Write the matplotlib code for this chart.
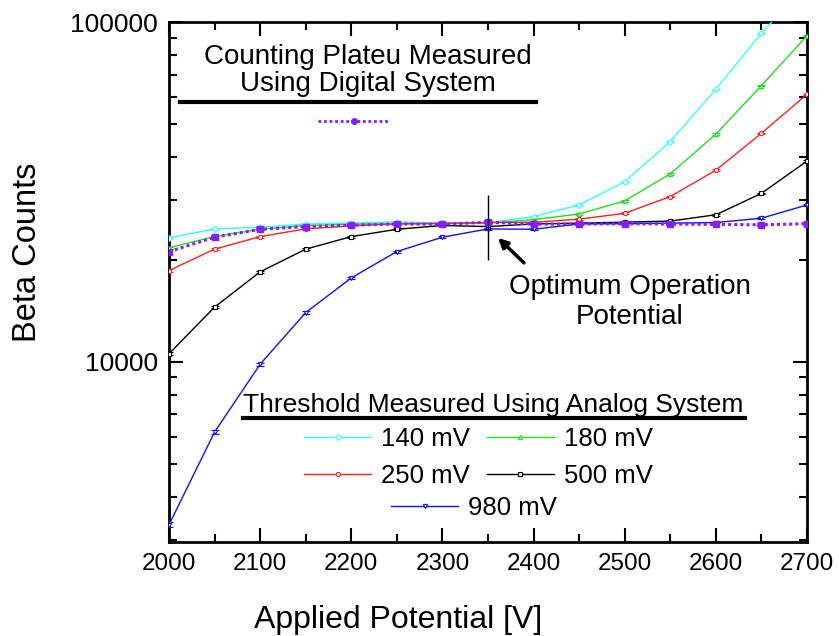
import numpy as np
import matplotlib
matplotlib.use("Agg")
import matplotlib.pyplot as plt
from matplotlib.lines import Line2D

plt.rcParams['font.family'] = ['Liberation Sans', 'DejaVu Sans']

# Applied high voltage [V]
voltage = [2000, 2050, 2100, 2150, 2200, 2250, 2300, 2350,
           2400, 2450, 2500, 2550, 2600, 2650, 2700]

# Beta counts for each discriminator threshold (analog system)
counts_140mv = [23170, 24620, 24900, 25460, 25600, 25820, 25600, 25650,
                26760, 28950, 33910, 44460, 63400, 92650, 130000]
counts_180mv = [21680, 23360, 24550, 25190, 25400, 25500, 25500, 25600,
                26200, 27230, 29760, 35730, 46770, 64970, 91130]
counts_250mv = [18560, 21460, 23360, 24620, 25120, 25460, 25550, 25700,
                25740, 26290, 27360, 30640, 36630, 47060, 61290]
counts_500mv = [10560, 14490, 18400, 21460, 23360, 24550, 25190, 25000,
                25460, 25590, 25770, 25950, 27090, 31310, 38970]
counts_980mv = [3316, 6213, 9840, 13960, 17660, 21110, 23270, 24610,
                24550, 25460, 25500, 25590, 25700, 26460, 28950]

# Counting plateau from the digital system
counts_digital = [21110, 23270, 24550, 25000, 25240, 25460, 25400, 25750,
                  25430, 25430, 25500, 25430, 25380, 25300, 25500]

analog_labels = ["140 mV", "180 mV", "250 mV", "500 mV", "980 mV"]
analog_series = [counts_140mv, counts_180mv, counts_250mv, counts_500mv, counts_980mv]
analog_colors = ["#33FFFF", "#22DD22", "#FF2020", "#000000", "#1010FF"]
analog_markers = ["D", "^", "o", "s", "v"]
digital_color = "#8A1AFF"

optimum_voltage = 2350

fig = plt.figure(figsize=(8.39, 6.36), dpi=100)
ax = fig.add_axes([169/839, 1 - 542/636, 638/839, 520/636])

handles = {}
for lab, ys, col, mk in zip(analog_labels, analog_series, analog_colors, analog_markers):
    ys = np.asarray(ys, dtype=float)
    # Poisson counting uncertainty
    ax.errorbar(voltage, ys, yerr=np.sqrt(ys), color=col, lw=1.0,
                marker=mk, ms=3, mfc='white', mec=col, mew=0.8,
                capsize=3, elinewidth=1.0, capthick=1.0, zorder=3)
    handles[lab] = Line2D([], [], color=col, lw=1.0, marker=mk, ms=3,
                          mfc='white', mec=col, mew=0.8)

dig = np.asarray(counts_digital, dtype=float)
ax.errorbar(voltage, dig, yerr=np.sqrt(dig), color=digital_color, lw=2.2,
            ls=(0, (1, 1)), marker='s', ms=4, mfc=digital_color, mec=digital_color,
            capsize=3, elinewidth=1.2, capthick=1.2, zorder=4)
dig_handle = Line2D([], [], color=digital_color, lw=2.0, ls=(0, (1, 1)),
                    marker='o', ms=4, mfc=digital_color, mec=digital_color)

ax.set_yscale('log')
ax.set_xlim(2000, 2700)
ax.set_ylim(2950, 100000)
ax.set_xticks(range(2000, 2701, 100))
ax.set_xticks(range(2050, 2700, 100), minor=True)
ax.set_yticks([10000, 100000])
ax.set_yticklabels(["10000", "100000"])
ax.yaxis.set_minor_formatter(matplotlib.ticker.NullFormatter())
ax.tick_params(which='both', direction='in', top=True, right=True, width=1.5,
               pad=8)
ax.tick_params(axis='x', labelsize=17.5)
ax.tick_params(axis='y', labelsize=19)
ax.tick_params(which='major', length=10)
ax.tick_params(which='minor', length=6)
for s in ax.spines.values():
    s.set_linewidth(2)

fig.text(398/839, 1 - 628/636, "Applied Potential [V]", fontsize=23,
         ha='center', va='baseline')
fig.text(28/839, 1 - 252/636, "Beta Counts", fontsize=23.5, rotation=90,
         ha='center', va='center')

# Optimum operation marker and annotation
ax.vlines(optimum_voltage, 19950, 30970, color='black', lw=1.0, zorder=5)
ax.annotate("", xy=(2361, 23160), xytext=(2389.5, 19550),
            arrowprops=dict(arrowstyle='-|>', color='black', lw=2.5,
                            mutation_scale=14, shrinkA=0, shrinkB=0))
ax.text(0.7226, 0.4625, "Optimum Operation\nPotential", transform=ax.transAxes,
        fontsize=20, ha='center', va='center', linespacing=1.2)

# Digital-system legend block
ax.text(0.312, 0.9067, "Counting Plateu Measured\nUsing Digital System",
        transform=ax.transAxes, fontsize=20, ha='center', va='center',
        linespacing=1.05)
ax.add_line(Line2D([0.0172, 0.575], [0.846, 0.846], transform=ax.transAxes,
                   color='black', lw=3))
leg0 = ax.legend([dig_handle], [""], loc='center', bbox_to_anchor=(0.29, 0.804),
                 frameon=False, handlelength=2.6, handletextpad=0.0,
                 borderpad=0, numpoints=1, fontsize=20)
ax.add_artist(leg0)

# Analog-system legend block
ax.text(0.508, 0.2635, "Threshold Measured Using Analog System",
        transform=ax.transAxes, fontsize=19, ha='center', va='center')
ax.add_line(Line2D([0.116, 0.903], [0.2385, 0.2385], transform=ax.transAxes,
                   color='black', lw=3))
order = ["140 mV", "250 mV", "180 mV", "500 mV"]
leg1 = ax.legend([handles[k] for k in order], order, loc='center',
                 bbox_to_anchor=(0.485, 0.162), ncol=2, frameon=False,
                 handlelength=2.6, handletextpad=0.39, columnspacing=0.66,
                 labelspacing=0.5, borderpad=0, numpoints=1, fontsize=18.5)
ax.add_artist(leg1)
ax.legend([handles["980 mV"]], ["980 mV"], loc='center',
          bbox_to_anchor=(0.478, 0.065), frameon=False, handlelength=2.6,
          handletextpad=0.39, borderpad=0, numpoints=1, fontsize=18.5)

fig.savefig("out.png", dpi=100)
